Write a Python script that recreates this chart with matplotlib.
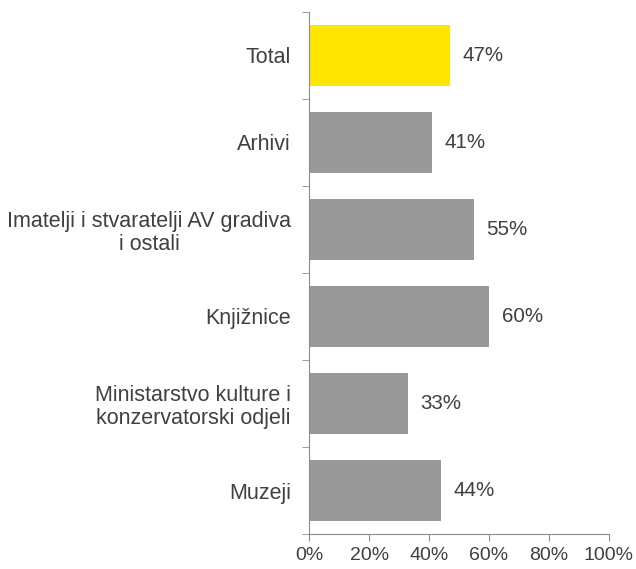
import matplotlib.pyplot as plt
import numpy as np

plt.rcParams['font.family'] = ['Liberation Sans', 'DejaVu Sans']

categories = ["Total", "Arhivi", "Imatelji i stvaratelji AV gradiva\ni ostali",
              "Knjižnice", "Ministarstvo kulture i\nkonzervatorski odjeli", "Muzeji"]
values = [47, 41, 55, 60, 33, 44]
colors = ["#FFE600", "#999999", "#999999", "#999999", "#999999", "#999999"]

text_col = "#404040"
axis_col = "#8C8C8C"

fig = plt.figure(figsize=(6.36, 5.69), dpi=100)
ax = fig.add_axes([0.486, 0.0615, 0.4715, 0.9175])

y = np.arange(len(categories))
ax.barh(y, values, height=0.71, color=colors)
for yi, v in zip(y, values):
    ax.annotate(f"{v}%", (v, yi), xytext=(9, 0), textcoords="offset points",
                va="center", ha="left", fontsize=14.8, color=text_col)

ax.set_ylim(len(categories) - 0.5, -0.5)
ax.set_xlim(0, 100)
ax.set_yticks(y)
ax.set_yticklabels(categories, fontsize=15.5, color=text_col, ha="right",
                   multialignment="center", linespacing=1.13)
ax.tick_params(axis="y", length=0, pad=13)
ax.set_yticks(np.arange(-0.5, len(categories)), minor=True)
ax.tick_params(axis="y", which="minor", length=5, color=axis_col, direction="out")

ax.set_xticks(np.arange(0, 101, 20))
ax.set_xticklabels([f"{t}%" for t in range(0, 101, 20)], fontsize=14, color=text_col)
ax.tick_params(axis="x", length=5, color=axis_col, pad=4)

for s in ["top", "right"]:
    ax.spines[s].set_visible(False)
for s in ["left", "bottom"]:
    ax.spines[s].set_color(axis_col)

fig.savefig("out.png", dpi=100)
